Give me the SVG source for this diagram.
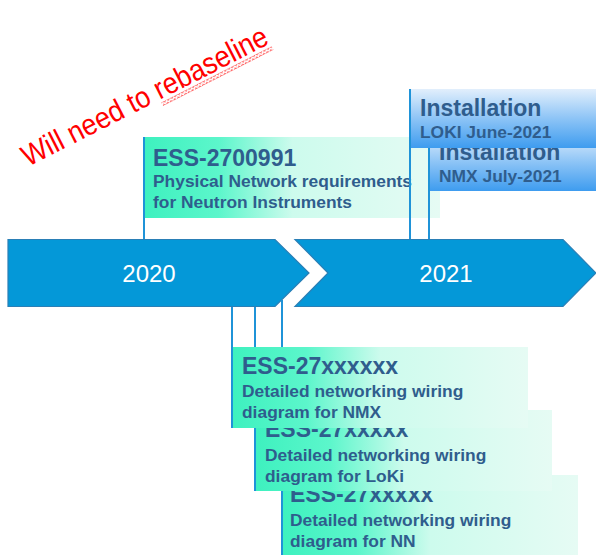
<svg xmlns="http://www.w3.org/2000/svg" width="596" height="555" viewBox="0 0 596 555">
<style>
.arrow{fill:#0498d8;stroke:#2a7fb6;stroke-width:1.2}
.year{font-family:"Liberation Sans",Arial,sans-serif;font-size:24px;fill:#ffffff;text-anchor:middle}
.title{font-family:"Liberation Sans",Arial,sans-serif;font-weight:bold;font-size:23px;fill:#2f5d8d}
.sub{font-family:"Liberation Sans",Arial,sans-serif;font-weight:bold;font-size:17.4px;fill:#2f5d8d}
.lead{stroke:#1f93d8;stroke-width:2;fill:none}
.gbox{fill:url(#green)}
.bbox{fill:url(#blue)}
.note{font-family:"Liberation Sans",Arial,sans-serif;font-size:30px;fill:#ff0000}
</style>
<defs>
<linearGradient id="green" x1="0" y1="0" x2="1" y2="0">
<stop offset="0" stop-color="#3ef1bf"/>
<stop offset="0.25" stop-color="#5cf6cb"/>
<stop offset="0.5" stop-color="#cdfbed"/>
<stop offset="1" stop-color="#e6fbf4"/>
</linearGradient>
<linearGradient id="blue" x1="0" y1="0" x2="0" y2="1">
<stop offset="0" stop-color="#e2effc"/>
<stop offset="0.5" stop-color="#8dc4f6"/>
<stop offset="1" stop-color="#3e9cef"/>
</linearGradient>
<pattern id="wave" width="4" height="4" patternUnits="userSpaceOnUse">
<polyline points="0,3 1,1 2,1 3,3 4,3" fill="none" stroke="#ff0000" stroke-width="0.8"/>
</pattern>
</defs>

<g id="timeline">
<polygon class="arrow" points="8,239.5 275,239.5 309,273 275,306.5 8,306.5"/>
<polygon class="arrow" points="295,239.5 563,239.5 596,273 563,306.5 295,306.5 328,273"/>
<text class="year" x="149" y="282">2020</text>
<text class="year" x="446" y="282">2021</text>
</g>

<g id="note">
<g transform="rotate(-27 28 167)">
<text class="note" x="28" y="167" textLength="272" lengthAdjust="spacingAndGlyphs">Will need to rebaseline</text>
<rect x="176" y="170" width="124" height="4" fill="url(#wave)"/>
</g>
</g>

<g id="connectors">
<line class="lead" x1="144" y1="137" x2="144" y2="239"/>
</g>

<g id="ess2700991">
<rect class="gbox" x="145" y="137" width="295" height="81"/>
<line class="lead" x1="144" y1="137" x2="144" y2="239"/>
<text class="title" x="153" y="166">ESS-2700991</text>
<text class="sub" x="153" y="187">Physical Network requirements</text>
<text class="sub" x="153" y="208">for Neutron Instruments</text>
</g>

<g id="install-nmx">
<rect class="bbox" x="430" y="133" width="166" height="58"/>
<line class="lead" x1="429" y1="133" x2="429" y2="239"/>
<text class="title" x="439" y="160">Installation</text>
<text class="sub" x="439" y="182">NMX July-2021</text>
</g>

<g id="install-loki">
<rect class="bbox" x="411" y="89" width="185" height="59"/>
<line class="lead" x1="410" y1="89" x2="410" y2="239"/>
<text class="title" x="420" y="116">Installation</text>
<text class="sub" x="420" y="138">LOKI June-2021</text>
</g>

<g id="wiring-nn">
<line class="lead" x1="282" y1="300" x2="282" y2="555"/>
<rect class="gbox" x="283" y="475" width="295" height="81"/>
<text class="title" x="290" y="502">ESS-27xxxxx</text>
<text class="sub" x="290" y="526">Detailed networking wiring</text>
<text class="sub" x="290" y="547">diagram for NN</text>
</g>

<g id="wiring-loki">
<line class="lead" x1="255" y1="307" x2="255" y2="491"/>
<rect class="gbox" x="256" y="410" width="296" height="81"/>
<text class="title" x="265" y="437">ESS-27xxxxx</text>
<text class="sub" x="265" y="461">Detailed networking wiring</text>
<text class="sub" x="265" y="482">diagram for LoKi</text>
</g>

<g id="wiring-nmx">
<line class="lead" x1="232" y1="307" x2="232" y2="428"/>
<rect class="gbox" x="233" y="347" width="295" height="81"/>
<text class="title" x="242" y="374">ESS-27xxxxxx</text>
<text class="sub" x="242" y="397">Detailed networking wiring</text>
<text class="sub" x="242" y="418">diagram for NMX</text>
</g>
</svg>
